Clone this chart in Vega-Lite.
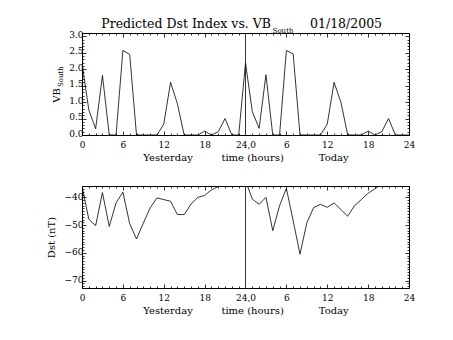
{
  "$schema": "https://vega.github.io/schema/vega-lite/v6.json",
  "background": "white",
  "padding": {"left": 45, "top": 17, "right": 5, "bottom": 5},
  "config": {
    "font": "DejaVu Serif",
    "view": {"stroke": "black", "strokeWidth": 1},
    "axis": {
      "domain": false,
      "grid": false,
      "tickColor": "black",
      "labelColor": "black",
      "titleColor": "black",
      "labelFont": "DejaVu Serif",
      "titleFont": "DejaVu Serif",
      "labelFontSize": 9,
      "titleFontSize": 10,
      "titleFontWeight": "normal",
      "labelOverlap": false,
      "tickWidth": 0.8
    }
  },
  "datasets": {
    "vb": [
      {"hour": 0, "vb": 2.19}, {"hour": 1, "vb": 0.76}, {"hour": 2, "vb": 0.19}, {"hour": 3, "vb": 1.81},
      {"hour": 4, "vb": 0}, {"hour": 5, "vb": 0}, {"hour": 6, "vb": 2.57}, {"hour": 7, "vb": 2.45},
      {"hour": 8, "vb": 0}, {"hour": 9, "vb": 0}, {"hour": 10, "vb": 0}, {"hour": 11, "vb": 0},
      {"hour": 12, "vb": 0.33}, {"hour": 13, "vb": 1.6}, {"hour": 14, "vb": 0.95}, {"hour": 15, "vb": 0},
      {"hour": 16, "vb": 0}, {"hour": 17, "vb": 0}, {"hour": 18, "vb": 0.12}, {"hour": 19, "vb": 0},
      {"hour": 20, "vb": 0.1}, {"hour": 21, "vb": 0.5}, {"hour": 22, "vb": 0}, {"hour": 23, "vb": 0},
      {"hour": 24, "vb": 2.19}, {"hour": 25, "vb": 0.71}, {"hour": 26, "vb": 0.2}, {"hour": 27, "vb": 1.83},
      {"hour": 28, "vb": 0}, {"hour": 29, "vb": 0}, {"hour": 30, "vb": 2.57}, {"hour": 31, "vb": 2.46},
      {"hour": 32, "vb": 0}, {"hour": 33, "vb": 0}, {"hour": 34, "vb": 0}, {"hour": 35, "vb": 0},
      {"hour": 36, "vb": 0.33}, {"hour": 37, "vb": 1.6}, {"hour": 38, "vb": 1.0}, {"hour": 39, "vb": 0},
      {"hour": 40, "vb": 0}, {"hour": 41, "vb": 0}, {"hour": 42, "vb": 0.12}, {"hour": 43, "vb": 0},
      {"hour": 44, "vb": 0.1}, {"hour": 45, "vb": 0.5}, {"hour": 46, "vb": 0}, {"hour": 47, "vb": 0},
      {"hour": 48, "vb": 0}
    ],
    "dst": [
      {"hour": 0, "dst": -36.0}, {"hour": 1, "dst": -47.9}, {"hour": 2, "dst": -50.2}, {"hour": 3, "dst": -38.3},
      {"hour": 4, "dst": -50.5}, {"hour": 5, "dst": -42.0}, {"hour": 6, "dst": -38.1}, {"hour": 7, "dst": -49.5},
      {"hour": 8, "dst": -55.0}, {"hour": 9, "dst": -49.3}, {"hour": 10, "dst": -43.8}, {"hour": 11, "dst": -40.2},
      {"hour": 12, "dst": -40.8}, {"hour": 13, "dst": -41.4}, {"hour": 14, "dst": -46.2}, {"hour": 15, "dst": -46.2},
      {"hour": 16, "dst": -42.4}, {"hour": 17, "dst": -40.0}, {"hour": 18, "dst": -39.3}, {"hour": 19, "dst": -37.3},
      {"hour": 20, "dst": -36.1}, {"hour": 21, "dst": -35.5}, {"hour": 22, "dst": -35.0}, {"hour": 23, "dst": -34.5},
      {"hour": 24, "dst": -34.0}, {"hour": 25, "dst": -40.6}, {"hour": 26, "dst": -42.5}, {"hour": 27, "dst": -40.0},
      {"hour": 28, "dst": -52.0}, {"hour": 29, "dst": -43.0}, {"hour": 30, "dst": -36.8}, {"hour": 31, "dst": -48.5},
      {"hour": 32, "dst": -60.5}, {"hour": 33, "dst": -49.2}, {"hour": 34, "dst": -43.7}, {"hour": 35, "dst": -42.5},
      {"hour": 36, "dst": -43.6}, {"hour": 37, "dst": -42.0}, {"hour": 38, "dst": -44.4}, {"hour": 39, "dst": -46.8},
      {"hour": 40, "dst": -43.0}, {"hour": 41, "dst": -40.8}, {"hour": 42, "dst": -38.5}, {"hour": 43, "dst": -36.9},
      {"hour": 44, "dst": -35.3}, {"hour": 45, "dst": -35.0}, {"hour": 46, "dst": -34.5}, {"hour": 47, "dst": -34.0}
    ]
  },
  "spacing": 51,
  "bounds": "flush",
  "vconcat": [
    {
      "width": 327,
      "height": 102,
      "resolve": {"axis": {"x": "independent", "y": "independent"}},
      "layer": [
        {
          "data": {"name": "vb"},
          "mark": {"type": "line", "color": "black", "strokeWidth": 0.8, "clip": true},
          "encoding": {
            "x": {"field": "hour", "type": "quantitative", "scale": {"domain": [0, 48], "nice": false, "zero": false},
              "axis": {"orient": "bottom", "values": [0,1,2,3,4,5,6,7,8,9,10,11,12,13,14,15,16,17,18,19,20,21,22,23,24,25,26,27,28,29,30,31,32,33,34,35,36,37,38,39,40,41,42,43,44,45,46,47,48],
                "labelExpr": "datum.value % 6 == 0 ? (datum.value == 24 ? '24,0' : (datum.value > 24 ? '' + (datum.value - 24) : '' + datum.value)) : ''",
                "tickSize": {"condition": {"test": "datum.value % 6 == 0", "value": -4}, "value": -2},
                "tickOpacity": {"condition": {"test": "datum.value == 24", "value": 0}, "value": 1},
                "labelPadding": 9, "labelFlush": false,
                "title": "Yesterday\u00a0\u00a0\u00a0\u00a0\u00a0\u00a0\u00a0\u00a0\u00a0time (hours)\u00a0\u00a0\u00a0\u00a0\u00a0\u00a0\u00a0\u00a0\u00a0\u00a0\u00a0Today",
                "titlePadding": 1}},
            "y": {"field": "vb", "type": "quantitative", "scale": {"domain": [0, 3.1], "nice": false},
              "axis": {"orient": "left", "values": [0,0.1,0.2,0.3,0.4,0.5,0.6,0.7,0.8,0.9,1,1.1,1.2,1.3,1.4,1.5,1.6,1.7,1.8,1.9,2,2.1,2.2,2.3,2.4,2.5,2.6,2.7,2.8,2.9,3],
                "labelExpr": "round(datum.value*10) % 5 == 0 ? format(datum.value, '.1f') : ''",
                "tickSize": {"condition": {"test": "round(datum.value*10) % 5 == 0", "value": -4}, "value": -2},
                "labelPadding": 3, "labelOffset": -2,
                "title": "VB", "titleX": -23, "titleY": 62, "titleAngle": 270, "titleBaseline": "alphabetic", "titleAlign": "center"}}
          }
        },
        {
          "data": {"name": "vb"},
          "mark": {"type": "line", "opacity": 0},
          "encoding": {
            "x": {"field": "hour", "type": "quantitative", "scale": {"domain": [0, 48], "nice": false, "zero": false},
              "axis": {"orient": "top", "values": [0,1,2,3,4,5,6,7,8,9,10,11,12,13,14,15,16,17,18,19,20,21,22,23,24,25,26,27,28,29,30,31,32,33,34,35,36,37,38,39,40,41,42,43,44,45,46,47,48],
                "labels": false, "title": null,
                "tickSize": {"condition": {"test": "datum.value % 6 == 0", "value": -4}, "value": -2},
                "tickOpacity": {"condition": {"test": "datum.value == 24", "value": 0}, "value": 1}}},
            "y": {"field": "vb", "type": "quantitative", "scale": {"domain": [0, 3.1], "nice": false},
              "axis": {"orient": "right", "values": [0,0.1,0.2,0.3,0.4,0.5,0.6,0.7,0.8,0.9,1,1.1,1.2,1.3,1.4,1.5,1.6,1.7,1.8,1.9,2,2.1,2.2,2.3,2.4,2.5,2.6,2.7,2.8,2.9,3],
                "labels": false, "title": null,
                "tickSize": {"condition": {"test": "round(datum.value*10) % 5 == 0", "value": -4}, "value": -2}}}
          }
        },
        {
          "data": {"values": [{}]},
          "mark": {"type": "rule", "color": "black", "strokeWidth": 0.8, "clip": true},
          "encoding": {
            "x": {"datum": 24, "type": "quantitative", "scale": {"domain": [0, 48], "nice": false, "zero": false}, "axis": null},
            "y": {"datum": 0, "type": "quantitative", "scale": {"domain": [0, 3.1], "nice": false}, "axis": null},
            "y2": {"datum": 3.1}
          }
        },
        {
          "data": {"values": [{}]},
          "mark": {"type": "text", "text": "Predicted Dst Index vs. VB", "fontSize": 12.5, "align": "right", "baseline": "alphabetic", "color": "black", "font": "DejaVu Serif"},
          "encoding": {
            "x": {"datum": 27.74, "type": "quantitative", "scale": {"domain": [0, 48], "nice": false, "zero": false}, "axis": null},
            "y": {"datum": 3.252, "type": "quantitative", "scale": {"domain": [0, 3.1], "nice": false}, "axis": null}
          }
        },
        {
          "data": {"values": [{}]},
          "mark": {"type": "text", "text": "South", "fontSize": 7, "align": "left", "baseline": "middle", "color": "black", "font": "DejaVu Serif"},
          "encoding": {
            "x": {"datum": 27.98, "type": "quantitative", "scale": {"domain": [0, 48], "nice": false, "zero": false}, "axis": null},
            "y": {"datum": 3.146, "type": "quantitative", "scale": {"domain": [0, 3.1], "nice": false}, "axis": null}
          }
        },
        {
          "data": {"values": [{}]},
          "mark": {"type": "text", "text": "01/18/2005", "fontSize": 12.5, "align": "left", "baseline": "alphabetic", "color": "black", "font": "DejaVu Serif"},
          "encoding": {
            "x": {"datum": 33.47, "type": "quantitative", "scale": {"domain": [0, 48], "nice": false, "zero": false}, "axis": null},
            "y": {"datum": 3.252, "type": "quantitative", "scale": {"domain": [0, 3.1], "nice": false}, "axis": null}
          }
        },
        {
          "data": {"values": [{}]},
          "mark": {"type": "text", "text": "South", "fontSize": 7, "align": "left", "baseline": "alphabetic", "angle": 270, "color": "black", "font": "DejaVu Serif"},
          "encoding": {
            "x": {"datum": -2.86, "type": "quantitative", "scale": {"domain": [0, 48], "nice": false, "zero": false}, "axis": null},
            "y": {"datum": 1.46, "type": "quantitative", "scale": {"domain": [0, 3.1], "nice": false}, "axis": null}
          }
        }
      ]
    },
    {
      "width": 327,
      "height": 102,
      "resolve": {"axis": {"x": "independent", "y": "independent"}},
      "layer": [
        {
          "data": {"name": "dst"},
          "mark": {"type": "line", "color": "black", "strokeWidth": 0.8, "clip": true},
          "encoding": {
            "x": {"field": "hour", "type": "quantitative", "scale": {"domain": [0, 48], "nice": false, "zero": false},
              "axis": {"orient": "bottom", "values": [0,1,2,3,4,5,6,7,8,9,10,11,12,13,14,15,16,17,18,19,20,21,22,23,24,25,26,27,28,29,30,31,32,33,34,35,36,37,38,39,40,41,42,43,44,45,46,47,48],
                "labelExpr": "datum.value % 6 == 0 ? (datum.value == 24 ? '24,0' : (datum.value > 24 ? '' + (datum.value - 24) : '' + datum.value)) : ''",
                "tickSize": {"condition": {"test": "datum.value % 6 == 0", "value": -4}, "value": -2},
                "tickOpacity": {"condition": {"test": "datum.value == 24", "value": 0}, "value": 1},
                "labelPadding": 9, "labelFlush": false,
                "title": "Yesterday\u00a0\u00a0\u00a0\u00a0\u00a0\u00a0\u00a0\u00a0\u00a0time (hours)\u00a0\u00a0\u00a0\u00a0\u00a0\u00a0\u00a0\u00a0\u00a0\u00a0\u00a0Today",
                "titlePadding": 1}},
            "y": {"field": "dst", "type": "quantitative", "scale": {"domain": [-72.7, -35.9], "nice": false, "zero": false},
              "axis": {"orient": "left", "values": [-72,-71,-70,-69,-68,-67,-66,-65,-64,-63,-62,-61,-60,-59,-58,-57,-56,-55,-54,-53,-52,-51,-50,-49,-48,-47,-46,-45,-44,-43,-42,-41,-40,-39,-38,-37,-36],
                "labelExpr": "datum.value % 10 == 0 ? format(datum.value, 'd') : ''",
                "tickSize": {"condition": {"test": "datum.value % 10 == 0", "value": -4}, "value": -2},
                "labelPadding": 3, "labelOffset": -1,
                "title": "Dst (nT)", "titlePadding": 8}}
          }
        },
        {
          "data": {"name": "dst"},
          "mark": {"type": "line", "opacity": 0},
          "encoding": {
            "x": {"field": "hour", "type": "quantitative", "scale": {"domain": [0, 48], "nice": false, "zero": false},
              "axis": {"orient": "top", "values": [0,1,2,3,4,5,6,7,8,9,10,11,12,13,14,15,16,17,18,19,20,21,22,23,24,25,26,27,28,29,30,31,32,33,34,35,36,37,38,39,40,41,42,43,44,45,46,47,48],
                "labels": false, "title": null,
                "tickSize": {"condition": {"test": "datum.value % 6 == 0", "value": -4}, "value": -2},
                "tickOpacity": {"condition": {"test": "datum.value == 24", "value": 0}, "value": 1}}},
            "y": {"field": "dst", "type": "quantitative", "scale": {"domain": [-72.7, -35.9], "nice": false, "zero": false},
              "axis": {"orient": "right", "values": [-72,-71,-70,-69,-68,-67,-66,-65,-64,-63,-62,-61,-60,-59,-58,-57,-56,-55,-54,-53,-52,-51,-50,-49,-48,-47,-46,-45,-44,-43,-42,-41,-40,-39,-38,-37,-36],
                "labels": false, "title": null,
                "tickSize": {"condition": {"test": "datum.value % 10 == 0", "value": -4}, "value": -2}}}
          }
        },
        {
          "data": {"values": [{}]},
          "mark": {"type": "rule", "color": "black", "strokeWidth": 0.8, "clip": true},
          "encoding": {
            "x": {"datum": 24, "type": "quantitative", "scale": {"domain": [0, 48], "nice": false, "zero": false}, "axis": null},
            "y": {"datum": -72.7, "type": "quantitative", "scale": {"domain": [-72.7, -35.9], "nice": false, "zero": false}, "axis": null},
            "y2": {"datum": -35.9}
          }
        }
      ]
    }
  ]
}
